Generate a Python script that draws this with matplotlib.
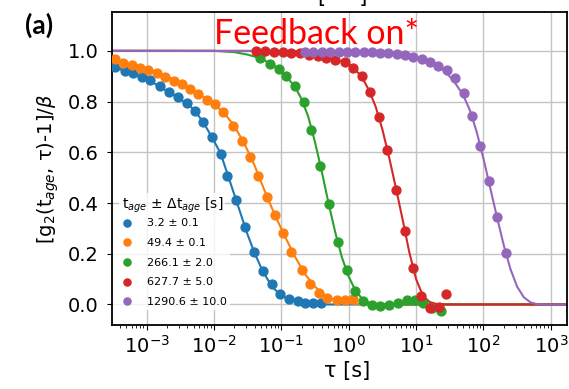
import numpy as np
import matplotlib
matplotlib.use("Agg")
import matplotlib.pyplot as plt

# measured points, log10(tau) and normalised g2
blue_logtau = [-3.47, -3.32, -3.20, -3.07, -2.95, -2.80, -2.66, -2.53, -2.40, -2.28, -2.16,
               -2.03, -1.90, -1.80, -1.67, -1.54, -1.40, -1.27, -1.14, -1.02, -0.88,
               -0.75, -0.65, -0.53, -0.41]
blue_g2 = [0.937, 0.921, 0.911, 0.898, 0.885, 0.861, 0.839, 0.817, 0.793, 0.764, 0.721,
           0.662, 0.594, 0.507, 0.413, 0.304, 0.206, 0.131, 0.079, 0.040, 0.022,
           0.013, 0.007, 0.007, 0.004]

orange_logtau = [-3.47, -3.35, -3.22, -3.10, -2.98, -2.85, -2.73, -2.60, -2.48, -2.36, -2.23,
                 -2.11, -1.98, -1.86, -1.72, -1.59, -1.46, -1.34, -1.21, -1.09, -0.97,
                 -0.85, -0.70, -0.58, -0.44, -0.32, -0.18, -0.06, 0.06]
orange_g2 = [0.966, 0.953, 0.944, 0.934, 0.924, 0.911, 0.898, 0.882, 0.869, 0.848, 0.830,
             0.806, 0.790, 0.760, 0.704, 0.646, 0.583, 0.505, 0.424, 0.354, 0.280,
             0.205, 0.137, 0.082, 0.047, 0.024, 0.018, 0.018, 0.022]

green_logtau = [-1.31, -1.17, -1.04, -0.93, -0.80, -0.67, -0.56, -0.43, -0.29, -0.16, -0.03,
                0.10, 0.21, 0.34, 0.46, 0.60, 0.73, 0.86, 0.98, 1.11, 1.23, 1.37]
green_g2 = [0.970, 0.948, 0.927, 0.902, 0.860, 0.797, 0.689, 0.547, 0.398, 0.247, 0.135,
            0.055, 0.012, -0.003, -0.008, -0.003, 0.004, 0.016, 0.016, 0.006, -0.012, -0.025]

red_logtau = [-1.37, -1.24, -1.11, -0.98, -0.85, -0.72, -0.59, -0.46, -0.33, -0.21, -0.06,
              0.07, 0.20, 0.32, 0.45, 0.57, 0.70, 0.84, 0.95, 1.08, 1.21, 1.34, 1.45]
red_g2 = [1.000, 1.000, 0.997, 0.995, 0.993, 0.990, 0.985, 0.978, 0.971, 0.965, 0.954,
          0.932, 0.899, 0.836, 0.739, 0.610, 0.453, 0.289, 0.142, 0.033, -0.015, -0.010, 0.040]

purple_logtau = [-0.65, -0.53, -0.40, -0.28, -0.15, -0.03, 0.09, 0.22, 0.34, 0.47, 0.59,
                 0.71, 0.84, 0.96, 1.09, 1.21, 1.33, 1.46, 1.58, 1.71, 1.83, 1.95, 2.08,
                 2.20, 2.33]
purple_g2 = [0.995, 0.995, 0.995, 0.995, 0.995, 0.995, 0.995, 0.995, 0.995, 0.993, 0.990,
             0.987, 0.983, 0.977, 0.968, 0.957, 0.942, 0.925, 0.891, 0.835, 0.743, 0.625,
             0.485, 0.345, 0.203]

# fitted curves
blue_fit_logtau = [-3.52, -3.25, -3.0, -2.75, -2.5, -2.3, -2.15, -2.0, -1.9, -1.8, -1.7,
                   -1.6, -1.5, -1.4, -1.3, -1.2, -1.1, -1.0, -0.85, -0.7, -0.5, -0.3, 3.24]
blue_fit = [0.940, 0.915, 0.890, 0.850, 0.810, 0.770, 0.715, 0.645, 0.595, 0.515, 0.435,
            0.355, 0.275, 0.205, 0.145, 0.097, 0.060, 0.035, 0.016, 0.007, 0.002, 0.0, 0.0]

orange_fit_logtau = [-3.52, -3.25, -3.0, -2.75, -2.5, -2.25, -2.0, -1.85, -1.7, -1.55, -1.4,
                     -1.25, -1.1, -0.95, -0.8, -0.65, -0.5, -0.35, -0.2, 0.0, 0.3, 3.24]
orange_fit = [0.968, 0.950, 0.930, 0.905, 0.875, 0.835, 0.790, 0.755, 0.705, 0.635, 0.550,
              0.450, 0.355, 0.270, 0.190, 0.120, 0.070, 0.035, 0.016, 0.004, 0.0, 0.0]

green_fit_logtau = [-3.52, -2.0, -1.7, -1.5, -1.3, -1.1, -0.95, -0.8, -0.7, -0.6, -0.5,
                    -0.4, -0.3, -0.2, -0.1, 0.0, 0.1, 0.2, 0.3, 0.45, 0.6, 3.24]
green_fit = [1.0, 1.0, 0.995, 0.985, 0.970, 0.940, 0.905, 0.860, 0.810, 0.740, 0.640,
             0.525, 0.400, 0.285, 0.185, 0.110, 0.055, 0.022, 0.007, 0.001, 0.0, 0.0]

red_fit_logtau = [-3.52, -1.5, -1.0, -0.7, -0.4, -0.2, 0.0, 0.1, 0.2, 0.3, 0.4, 0.5,
                  0.6, 0.7, 0.8, 0.9, 1.0, 1.1, 1.2, 1.3, 1.45, 3.24]
red_fit = [1.0, 1.0, 0.998, 0.993, 0.982, 0.968, 0.948, 0.925, 0.895, 0.845, 0.780, 0.690,
           0.580, 0.460, 0.335, 0.205, 0.100, 0.035, 0.010, 0.002, 0.0, 0.0]

purple_fit_logtau = [-3.52, 0.5, 0.8, 1.0, 1.2, 1.4, 1.55, 1.7, 1.8, 1.9, 2.0, 2.1, 2.2,
                     2.3, 2.4, 2.5, 2.6, 2.7, 2.8, 2.9, 3.24]
purple_fit = [1.0, 0.998, 0.990, 0.978, 0.955, 0.925, 0.885, 0.825, 0.765, 0.680, 0.575,
              0.460, 0.345, 0.235, 0.140, 0.070, 0.028, 0.008, 0.001, 0.0, 0.0]

labels = ["3.2 ± 0.1", "49.4 ± 0.1", "266.1 ± 2.0", "627.7 ± 5.0", "1290.6 ± 10.0"]
colors = ["#1f77b4", "#ff7f0e", "#2ca02c", "#d62728", "#9467bd"]

points = [(blue_logtau, blue_g2), (orange_logtau, orange_g2), (green_logtau, green_g2),
          (red_logtau, red_g2), (purple_logtau, purple_g2)]
fits = [(blue_fit_logtau, blue_fit), (orange_fit_logtau, orange_fit),
        (green_fit_logtau, green_fit), (red_fit_logtau, red_fit),
        (purple_fit_logtau, purple_fit)]

fig = plt.figure(figsize=(5.69, 3.89), dpi=100)
ax = fig.add_axes([0.196, 0.1645, 0.8005, 0.8046])

for (lx, ly), (fx, fy), c, lab in zip(points, fits, colors, labels):
    ax.plot(10 ** np.array(fx), fy, color=c, lw=1.5, zorder=2)
    ax.plot(10 ** np.array(lx), ly, "o", color=c, ms=6.4, label=lab, zorder=3)

ax.set_xscale("log")
ax.set_xlim(10 ** -3.52, 10 ** 3.24)
ax.set_ylim(-0.081, 1.153)
ax.set_yticks([0.0, 0.2, 0.4, 0.6, 0.8, 1.0])
ax.set_xticks([1e-3, 1e-2, 1e-1, 1e0, 1e1, 1e2, 1e3])
ax.grid(True, which="major", color="#c4c4c4", lw=1.0)
ax.tick_params(axis="y", labelsize=14, pad=6)
ax.tick_params(axis="x", labelsize=14)
for s in ax.spines.values():
    s.set_color("black")
    s.set_linewidth(1.3)

ax.set_xlabel("τ [s]", fontsize=15)
ax.xaxis.set_label_coords(0.517, -0.115)
ax.set_ylabel(r"[g$_2$(t$_{age}$, τ)-1]/$\beta$", fontsize=14)
ax.yaxis.set_label_coords(-0.11, 0.5)

leg = ax.legend(loc="lower left", bbox_to_anchor=(0.0, 0.043), fontsize=8,
                markerscale=0.8, labelspacing=0.87, borderpad=0.3, frameon=True,
                framealpha=0.8, borderaxespad=0.1)
leg.get_frame().set_edgecolor("none")
# legend heading sits close above the entries
ax.text(0.022, 0.383, r"t$_{age}$ ± Δt$_{age}$ [s]", transform=ax.transAxes,
        fontsize=10, ha="left", va="center", zorder=5,
        bbox=dict(facecolor="white", edgecolor="none", alpha=0.8, pad=1.5))

fig.text(39 / 569, 1 - 25 / 389, "(a)", fontsize=19, fontweight="bold",
         family="Lato", ha="center", va="center")
fig.text(316 / 569, 1 - 34 / 389, "Feedback on*", fontsize=24.5, color="red",
         family="Lato", ha="center", va="center")
fig.text(343 / 569, 1 - 3 / 389, "[     ]", fontsize=15, ha="center", va="baseline")

fig.savefig("out.png", dpi=100)
